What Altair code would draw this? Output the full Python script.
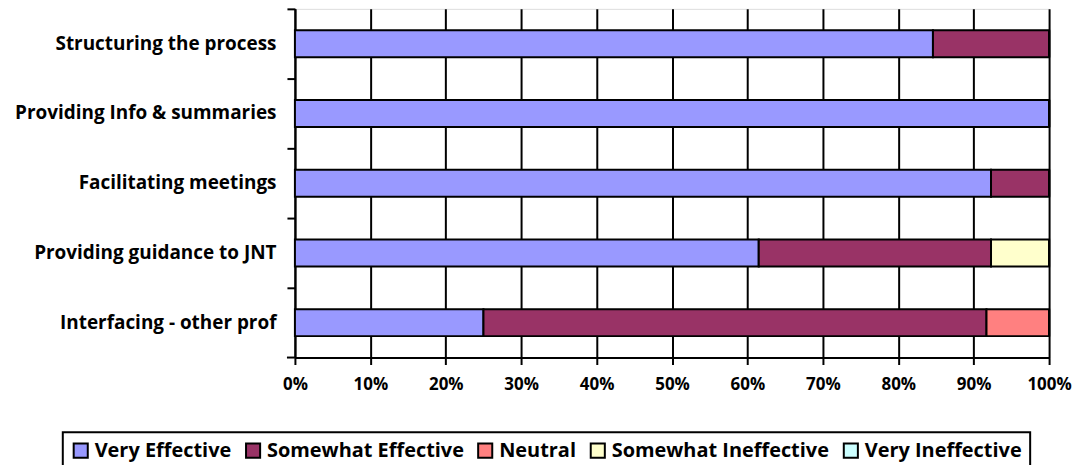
import altair as alt
import pandas as pd

categories = ["Structuring the process", "Providing Info & summaries", "Facilitating meetings",
              "Providing guidance to JNT", "Interfacing - other prof"]
series = ["Very Effective", "Somewhat Effective", "Neutral", "Somewhat Ineffective", "Very Ineffective"]
colors = ["#9999FF", "#993366", "#FF8080", "#FFFFCC", "#CCFFFF"]

very_effective = [84.6, 100.0, 92.3, 61.5, 25.0]
somewhat_effective = [15.4, 0.0, 7.7, 30.8, 66.7]
neutral = [0.0, 0.0, 0.0, 0.0, 8.3]
somewhat_ineffective = [0.0, 0.0, 0.0, 7.7, 0.0]
very_ineffective = [0.0, 0.0, 0.0, 0.0, 0.0]

values = [very_effective, somewhat_effective, neutral, somewhat_ineffective, very_ineffective]
rows = []
for si, s in enumerate(series):
    for ci, c in enumerate(categories):
        rows.append({"category": c, "series": s, "order": si, "value": values[si][ci]})
df = pd.DataFrame(rows)

FONT = "Open Sans"

bars = alt.Chart(df).mark_bar(stroke="black", strokeWidth=2, size=27).encode(
    y=alt.Y("category:N", sort=categories, title=None,
            scale=alt.Scale(paddingInner=0, paddingOuter=0),
            axis=alt.Axis(bandPosition=0, tickSize=8, tickColor="black", tickWidth=2,
                          domainColor="black", domainWidth=2, labelPadding=11,
                          labelFont=FONT, labelFontWeight="bold", labelFontSize=19,
                          labelColor="black", grid=False, labelLimit=400)),
    x=alt.X("value:Q", stack="normalize", title=None,
            scale=alt.Scale(domain=[0, 1], nice=False),
            axis=alt.Axis(format="%", values=[i / 10 for i in range(11)], tickSize=7,
                          tickColor="black", tickWidth=2, domainColor="black", domainWidth=2,
                          grid=True, gridColor="black", gridWidth=2, gridOpacity=1,
                          labelFont=FONT, labelFontWeight="bold", labelFontSize=17,
                          labelColor="black", labelPadding=12, labelFlush=False)),
    color=alt.Color("series:N", sort=series,
                    scale=alt.Scale(domain=series, range=colors),
                    legend=alt.Legend(title=None, orient="none", direction="horizontal",
                                      columns=5, legendX=-233, legendY=425,
                                      symbolType="square", symbolSize=200,
                                      symbolStrokeColor="black", symbolStrokeWidth=2,
                                      symbolOpacity=1, labelLimit=400,
                                      labelFont=FONT, labelFontWeight="bold", labelFontSize=20,
                                      labelColor="black", labelOffset=4, columnPadding=9,
                                      padding=8)),
    order=alt.Order("order:Q"),
)

tick_bottom = alt.Chart(pd.DataFrame({"a": [0]})).mark_rule(color="black", strokeWidth=2).encode(
    x=alt.value(-8), x2=alt.value(0), y=alt.value(350))

chart = alt.layer(bars, tick_bottom).properties(
    width=757, height=350,
    autosize=alt.AutoSizeParams(type="none"),
    padding={"left": 288, "top": 0, "right": 24, "bottom": 107},
).configure_view(stroke="#999999", strokeWidth=3).configure(
    background="white"
).configure_legend(strokeColor="black", strokeWidth=2)

chart.save("out.html", embed_options={"renderer": "svg", "actions": False})
